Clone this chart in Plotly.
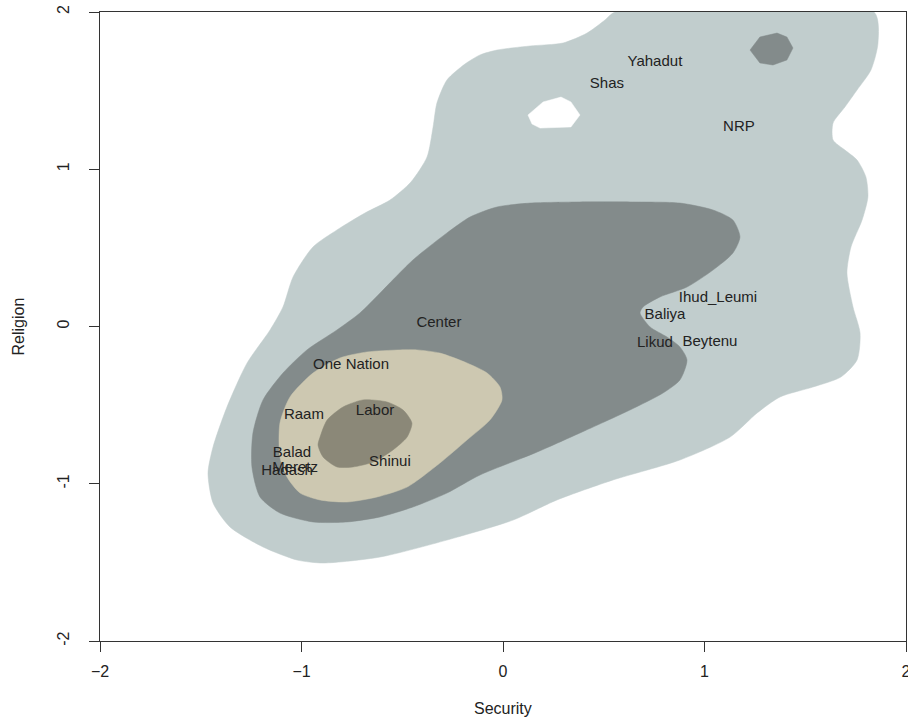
import plotly.graph_objects as go

# Party positions on the two issue dimensions
parties = ["Yahadut", "Shas", "NRP", "Ihud_Leumi", "Baliya", "Beytenu", "Likud",
           "Center", "One Nation", "Labor", "Raam", "Shinui", "Balad", "Meretz", "Hadash"]
security = [0.754, 0.516, 1.171, 1.067, 0.804, 1.027, 0.754,
            -0.318, -0.754, -0.635, -0.988, -0.561, -1.047, -1.032, -1.072]
religion = [1.682, 1.542, 1.269, 0.181, 0.073, -0.099, -0.105,
            0.022, -0.245, -0.537, -0.563, -0.862, -0.804, -0.900, -0.919]

# Density contour outlines (security, religion), lowest level first
level1_x = [0.556, 1.841, 1.861, 1.826, 1.757, 1.697, 1.638, 1.638, 1.697, 1.757, 1.801, 1.811,
            1.782, 1.727, 1.707, 1.737, 1.772, 1.757, 1.677, 1.538, 1.375, 1.261, 1.127, 0.878,
            0.546, 0.268, 0.050, -0.278, -0.610, -0.893, -1.022, -1.191, -1.355, -1.439, -1.464,
            -1.439, -1.370, -1.270, -1.156, -1.092, -1.042, -0.943, -0.824, -0.685, -0.561, -0.457,
            -0.377, -0.347, -0.328, -0.278, -0.189, -0.114, -0.030, 0.134, 0.298, 0.417, 0.506]
level1_y = [2.000, 2.000, 1.803, 1.631, 1.504, 1.396, 1.294, 1.186, 1.122, 1.059, 0.951, 0.824,
            0.677, 0.506, 0.340, 0.124, -0.041, -0.213, -0.321, -0.385, -0.448, -0.550, -0.703, -0.849,
            -0.976, -1.103, -1.231, -1.358, -1.466, -1.504, -1.485, -1.402, -1.275, -1.122, -0.932,
            -0.766, -0.512, -0.232, -0.022, 0.124, 0.315, 0.506, 0.614, 0.722, 0.804, 0.919,
            1.078, 1.269, 1.421, 1.568, 1.669, 1.727, 1.758, 1.784, 1.803, 1.866, 1.949]

hole_x = [0.124, 0.199, 0.288, 0.337, 0.382, 0.337, 0.184, 0.144]
hole_y = [1.345, 1.428, 1.459, 1.428, 1.345, 1.269, 1.262, 1.288]

island_x = [1.226, 1.275, 1.360, 1.409, 1.439, 1.409, 1.340, 1.275]
island_y = [1.758, 1.841, 1.866, 1.841, 1.771, 1.695, 1.663, 1.676]

level2_x = [-0.278, -0.164, -0.030, 0.134, 0.382, 0.630, 0.878, 1.042, 1.141, 1.176, 1.141, 1.042,
            0.913, 0.779, 0.695, 0.680, 0.730, 0.814, 0.878, 0.913, 0.878, 0.794, 0.630, 0.382,
            0.159, -0.114, -0.278, -0.447, -0.610, -0.774, -0.943, -1.107, -1.206, -1.246, -1.241,
            -1.191, -1.092, -0.973, -0.824, -0.710, -0.610, -0.447]
level2_y = [0.595, 0.696, 0.760, 0.785, 0.792, 0.792, 0.785, 0.741, 0.677, 0.569, 0.467, 0.359,
            0.251, 0.188, 0.124, 0.086, -0.003, -0.067, -0.130, -0.213, -0.340, -0.423, -0.531, -0.677,
            -0.804, -0.944, -1.059, -1.148, -1.211, -1.243, -1.243, -1.186, -1.084, -0.893, -0.677,
            -0.467, -0.296, -0.149, -0.022, 0.086, 0.213, 0.423]

level3_x = [-0.511, -0.675, -0.809, -0.943, -1.057, -1.107, -1.107, -1.072, -1.007, -0.908, -0.774,
            -0.625, -0.476, -0.313, -0.179, -0.065, -0.005, -0.015, -0.079, -0.179, -0.313, -0.427]
level3_y = [-0.149, -0.162, -0.200, -0.296, -0.448, -0.614, -0.830, -0.957, -1.059, -1.103, -1.116,
            -1.084, -1.021, -0.868, -0.722, -0.595, -0.467, -0.385, -0.296, -0.232, -0.169, -0.149]

level4_x = [-0.908, -0.873, -0.794, -0.695, -0.576, -0.496, -0.452, -0.476, -0.546, -0.645, -0.744,
            -0.824, -0.893, -0.918]
level4_y = [-0.703, -0.595, -0.512, -0.467, -0.480, -0.531, -0.614, -0.703, -0.785, -0.862, -0.893,
            -0.893, -0.830, -0.754]

AXIS_COLOR = "#333333"
TEXT_COLOR = "#222222"
FONT = "Liberation Sans, Arial, sans-serif"

fig = go.Figure()


def add_region(xs, ys, color, smooth=True):
    fig.add_trace(go.Scatter(
        x=xs + xs[:1], y=ys + ys[:1], mode="lines", fill="toself",
        fillcolor=color, line=dict(color=color, width=0.5,
                                   shape="spline" if smooth else "linear",
                                   smoothing=0.7 if smooth else 0),
        hoverinfo="skip", showlegend=False))


add_region(level1_x, level1_y, "#C1CDCD")
add_region(hole_x, hole_y, "#FFFFFF", smooth=False)
add_region(island_x, island_y, "#838B8B", smooth=False)
add_region(level2_x, level2_y, "#838B8B")
add_region(level3_x, level3_y, "#CDC8B1")
add_region(level4_x, level4_y, "#8B8878")

fig.add_trace(go.Scatter(
    x=security, y=religion, mode="text", text=parties,
    textposition="middle center",
    textfont=dict(family=FONT, size=15, color=TEXT_COLOR),
    hoverinfo="skip", showlegend=False))

tick_vals = [-2, -1, 0, 1, 2]

fig.update_layout(
    width=908, height=721,
    margin=dict(l=100, r=2, t=12, b=80, autoexpand=False),
    paper_bgcolor="white", plot_bgcolor="white",
    font=dict(family=FONT, color=TEXT_COLOR),
    xaxis=dict(range=[-2, 2], tickvals=tick_vals,
               ticktext=["\u22122", "\u22121", "0", "1", "2"],
               showgrid=False, zeroline=False, showline=True, mirror=True,
               linecolor=AXIS_COLOR, linewidth=1, ticks="outside", ticklen=10,
               tickcolor=AXIS_COLOR, tickwidth=1, ticklabelstandoff=6,
               ticklabeloverflow="allow", automargin=False,
               tickfont=dict(family=FONT, size=16, color=TEXT_COLOR)),
    yaxis=dict(range=[-2, 2], tickvals=tick_vals,
               ticktext=["-2", "-1", "0", "1", "2"], tickangle=-90,
               showgrid=False, zeroline=False, showline=True, mirror=True,
               linecolor=AXIS_COLOR, linewidth=1, ticks="outside", ticklen=10,
               tickcolor=AXIS_COLOR, tickwidth=1, ticklabelstandoff=14,
               ticklabeloverflow="allow", automargin=False,
               tickfont=dict(family=FONT, size=16, color=TEXT_COLOR)),
    annotations=[
        dict(text="Security", xref="paper", yref="paper", x=0.5, y=0,
             yshift=-67, xanchor="center", yanchor="middle", showarrow=False,
             font=dict(family=FONT, size=16, color=TEXT_COLOR)),
        dict(text="Religion", xref="paper", yref="paper", x=0, y=0.5,
             xshift=-82, xanchor="center", yanchor="middle", textangle=-90,
             showarrow=False, font=dict(family=FONT, size=16, color=TEXT_COLOR)),
    ],
)

fig.write_html("out.html")
